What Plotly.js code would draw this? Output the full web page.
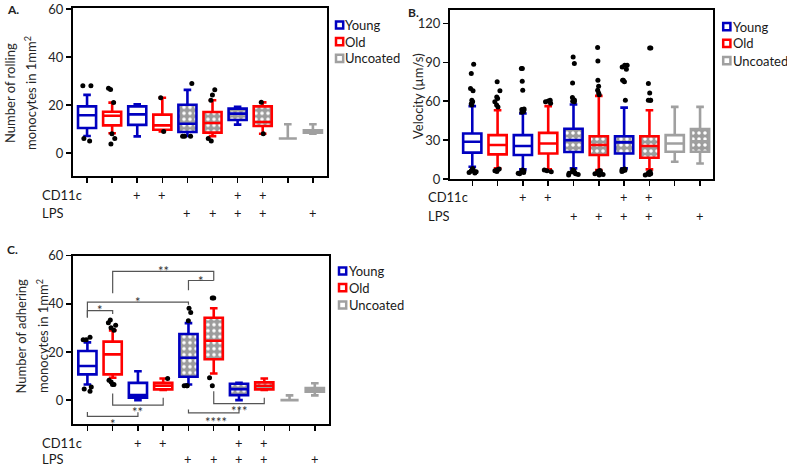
<!DOCTYPE html>
<html><head><meta charset="utf-8">
<script src="https://cdn.plot.ly/plotly-3.0.1.min.js"></script>
<style>html,body{margin:0;padding:0;background:#fff}#chart{width:787px;height:465px}</style>
</head><body><div id="chart"></div>
<script>
// ---------- categories ----------
const positions = [0,1,2,3,4,5,6,7,8,9];
const groups = ['Young','Old','Young','Old','Young','Old','Young','Old','Uncoated','Uncoated'];
const cd11cRow = ['', '', '+', '+', '', '', '+', '+', '', ''];
const lpsRow   = ['', '', '', '', '+', '+', '+', '+', '', '+'];
const groupNames = ['Young','Old','Uncoated'];

// ---------- Panel A: rolling monocytes ----------
const aLow = [7.1, 8.2, 6.9, 9, 7.1, 7, 11.8, 8, 6, 8];
const aQ1  = [10.4, 11.5, 11.7, 9.7, 8.75, 8.5, 13.75, 11.25, 6, 8.5];
const aMed = [15.7, 15.5, 16.1, 11.5, 12.2, 12.5, 16.4, 12.9, 6, 9];
const aQ3  = [19.4, 17.2, 19.4, 16, 20.1, 17.1, 18.5, 19.4, 6, 9.5];
const aHigh= [24.2, 21, 20.3, 23, 26.3, 22, 19.2, 21.1, 12, 12];
const aOut = [[28,28,6,5],[27,26.5,21,8,6,3.7],[],[23,9],[29,7,7,7],[26.3,24.2,22,6,5],[],[21.1,8],[],[]];

// ---------- Panel B: velocity ----------
const bLow = [9.5, 8.2, 7.4, 7.4, 8.2, 6.9, 8.2, 7.4, 13.3, 12];
const bQ1  = [20.3, 19, 18.5, 19.7, 20.8, 18.5, 19.7, 16.4, 21, 21];
const bMed = [28.7, 26.2, 25.4, 27.4, 30, 26.2, 28.2, 25.4, 27.4, 29];
const bQ3  = [35.1, 33.8, 33.8, 35.6, 38.7, 33, 33, 33, 33.8, 38.5];
const bHigh= [56.2, 53, 50.5, 56.2, 57.4, 64.1, 55, 53, 55.6, 55.6];
const bOut = [
  [57,58,59.5,60.8,68,69.7,81.3,88.5,8,7.5,7,6.5,6,5.5,5,4.6],
  [55.6,57,59.5,62,63.3,68,75,7.8,7.2,6.8,6.3,5.8],
  [51.5,52,52.5,53,53.5,54,68.5,75.4,85.1,85.1,7,6.5,6,5.5,5,4.5,4],
  [58.5,59.5,60.2,60.8,6.9,6.3,5.6],
  [59.5,60,60.5,61,62.8,74.1,89,94.1,7,6.5,6,5.5,5,4.5,4,3.5,3],
  [65,66.4,68.5,71.5,76.2,91,101.3,6.5,6,5.5,5,4.5,4,3.5,3],
  [60.8,74.9,76.2,76.2,84.6,86.4,87.7,87.7,7.7,7.2,6.8,6.3,5.8],
  [60.8,60.8,60.8,66.4,73.6,101,101,5.6,5,4.5,4,3.5,3],
  [],[]];

// ---------- Panel C: adhering monocytes ----------
const cLow = [6.5, 9.3, 0, 4.2, 6.5, 11.1, 0, 4.2, 0, 2];
const cQ1  = [10.7, 10.7, 1, 4.5, 9.7, 17, 2.1, 4.5, 0, 3.5];
const cMed = [14.2, 19, 2.1, 6, 17.6, 24.7, 4.6, 6, 0, 4.2];
const cQ3  = [20.4, 24.3, 7.2, 7.2, 27.5, 34.2, 6.8, 7.4, 0, 5];
const cHigh= [24, 29, 12, 9, 32, 38.2, 7.2, 9, 2, 7];
const cOut = [[26.1,25.1,25.1,5.5,4.6,3.75],[33.3,32.2,31.1,30.1,29,8.3,7.5,6.5,6.5],[],[9],[38.2,36.4,33,6,6,6],[42.4,42.4,9.3,6],[],[],[],[]];

// significance brackets on panel C
const sigFrom  = [0, 0, 1, 4, 1, 0, 5, 4];
const sigTo    = [1, 4, 5, 5, 3, 2, 7, 6];
const sigBar   = [37.2, 40.7, 53.5, 49.7, -2.1, -6.7, -1.4, -5.3];
const sigLeft  = [34.3, 34.3, 44.4, 45.6, 2.8, -4.9, 3.75, -3.9];
const sigRight = [35.8, 39.6, 49.7, 49.7, 1.0, -5.0, 1.0, -3.5];
const sigText  = ['*', '*', '**', '*', '**', '*', '***', '****'];
const sigLabelX= [0.5, 2, 3, 4.5, 2, 1, 6, 5.1];
const sigLabelY= [38.9, 42.4, 55.3, 51.1, -3.3, -8.3, -2.8, -7.6];

// ---------- styling ----------
const colors = {Young:'#0000C0', Old:'#FF0000', Uncoated:'#A0A0A0'};
const FONT = 'Lato, "Open Sans", sans-serif';
const W = 787, H = 465;
const px = x => x / W, py = y => 1 - y / H;
const patterned = [0,0,0,0,1,1,1,1,0,1];

const panels = [
  {ax:'', low:aLow, q1:aQ1, med:aMed, q3:aQ3, high:aHigh, out:aOut,
   xdom:[73,326.7], ydom:[8.3,176], xr:[-0.56,9.55], yr:[-9.6,60.3], yt:[0,20,40,60],
   titleLines:['Number of rolling','monocytes in 1mm<sup>2</sup>'], titleX:[10,31], titleY:93,
   label:'A.', labelPos:[5,9],
   rowLbl:[40,194,212], legSq:335.3, legTx:343.3, legY:[25,41.7,58.3]},
  {ax:'2', low:bLow, q1:bQ1, med:bMed, q3:bQ3, high:bHigh, out:bOut,
   xdom:[450,712.7], ydom:[10,179], xr:[-0.88,9.5], yr:[0,130.3], yt:[0,30,60,90,120],
   titleLines:['Velocity (\u00b5m/s)'], titleX:[418], titleY:96,
   label:'B.', labelPos:[406,13],
   rowLbl:[426,197,215], legSq:722.5, legTx:730.7, legY:[26.7,43.3,60.7]},
  {ax:'3', low:cLow, q1:cQ1, med:cMed, q3:cQ3, high:cHigh, out:cOut,
   xdom:[73,328.7], ydom:[255.7,424], xr:[-0.57,9.55], yr:[-9.9,60], yt:[0,20,40,60],
   titleLines:['Number of adhering','monocytes in 1mm<sup>2</sup>'], titleX:[20.5,42], titleY:336,
   label:'C.', labelPos:[5,250],
   rowLbl:[40,442,458], legSq:338.3, legTx:346.7, legY:[271,287.7,305]}
];

const traces = [];
const layout = {
  width: W, height: H, margin:{l:0,r:0,t:0,b:0},
  paper_bgcolor:'#fff', plot_bgcolor:'rgba(0,0,0,0)',
  showlegend:false, boxmode:'overlay', barmode:'overlay',
  font:{family:FONT, size:13, color:'#222'},
  shapes:[], annotations:[]
};
const textAnn = (o) => Object.assign({showarrow:false, font:{size:13, color:'#1a1a1a'}}, o);

panels.forEach(p => {
  const xa = 'x' + p.ax, ya = 'y' + p.ax;
  // pattern fill under LPS boxes
  const pi = positions.filter(i => patterned[i]);
  traces.push({
    type:'bar', x: pi, base: pi.map(i => p.q1[i]), y: pi.map(i => p.q3[i] - p.q1[i]),
    width: 0.72, xaxis: xa, yaxis: ya, hoverinfo:'skip',
    marker:{color:'#9C9C9C', line:{width:0},
      pattern:{shape:'.', bgcolor:'#9C9C9C', fgcolor:'#FFFFFF', size:6, solidity:0.28}}
  });
  // boxes per group
  groupNames.forEach(g => {
    const idx = positions.filter(i => groups[i] === g);
    traces.push({
      type:'box', name:g, x: idx,
      q1: idx.map(i => p.q1[i]), median: idx.map(i => p.med[i]), q3: idx.map(i => p.q3[i]),
      lowerfence: idx.map(i => p.low[i]), upperfence: idx.map(i => p.high[i]),
      xaxis: xa, yaxis: ya, width: 0.72, whiskerwidth: 0.42,
      line:{color: colors[g], width: 2.6}, fillcolor:'rgba(0,0,0,0)', boxpoints:false
    });
  });
  // outliers (points only)
  const ox = [], oy = [];
  p.out.forEach((arr, i) => arr.forEach(v => { ox.push(positions[i]); oy.push(v); }));
  traces.push({
    type:'box', x: ox, y: oy, xaxis: xa, yaxis: ya, width: 0.72,
    boxpoints:'all', jitter: 0.55, pointpos: 0,
    marker:{color:'#000', size:5}, line:{width:0, color:'rgba(0,0,0,0)'},
    fillcolor:'rgba(0,0,0,0)', hoveron:'points'
  });

  layout['xaxis' + p.ax] = {
    domain:[px(p.xdom[0]), px(p.xdom[1])], anchor: ya, range: p.xr,
    tickvals: positions, showticklabels:false, ticks:'outside', ticklen:5, tickwidth:1.5, tickcolor:'#000',
    showline:true, linewidth:2, linecolor:'#000', mirror:true, showgrid:false, zeroline:false
  };
  layout['yaxis' + p.ax] = {
    domain:[py(p.ydom[1]), py(p.ydom[0])], anchor: xa, range: p.yr,
    tickvals: p.yt, ticks:'outside', ticklen:5, tickwidth:1.5, tickcolor:'#000',
    tickfont:{size:13, color:'#262626'},
    showline:true, linewidth:2, linecolor:'#000', mirror:true, showgrid:false, zeroline:false
  };
  // y-axis title (rotated lines)
  p.titleLines.forEach((t, k) => layout.annotations.push(textAnn({xref:'paper', yref:'paper',
    x:px(p.titleX[k]), y:py(p.titleY), xanchor:'center', yanchor:'middle', textangle:-90,
    text:t, font:{size:13, color:'#262626'}})));
  // panel letter
  layout.annotations.push(textAnn({xref:'paper', yref:'paper', x:px(p.labelPos[0]), y:py(p.labelPos[1]),
    xanchor:'left', yanchor:'middle', text:'<b>' + p.label + '</b>', font:{size:12, color:'#222'}}));
  // condition rows
  layout.annotations.push(textAnn({xref:'paper', yref:'paper', x:px(p.rowLbl[0]), y:py(p.rowLbl[1]),
    xanchor:'left', yanchor:'middle', height:15, text:'CD11c'}));
  layout.annotations.push(textAnn({xref:'paper', yref:'paper', x:px(p.rowLbl[0]), y:py(p.rowLbl[2]),
    xanchor:'left', yanchor:'middle', height:15, text:'LPS'}));
  positions.forEach(i => {
    if (cd11cRow[i]) layout.annotations.push(textAnn({xref:xa, yref:'paper', x:positions[i], y:py(p.rowLbl[1]),
      xanchor:'center', yanchor:'middle', height:15, text:cd11cRow[i]}));
    if (lpsRow[i]) layout.annotations.push(textAnn({xref:xa, yref:'paper', x:positions[i], y:py(p.rowLbl[2]),
      xanchor:'center', yanchor:'middle', height:15, text:lpsRow[i]}));
  });
  // legend
  groupNames.forEach((g, k) => {
    const cy = p.legY[k], cx = p.legSq + 4.3;
    layout.shapes.push({type:'rect', xref:'paper', yref:'paper',
      x0:px(cx - 3.6), x1:px(cx + 3.6), y0:py(cy + 3.6), y1:py(cy - 3.6),
      line:{color:colors[g], width:2.5}, fillcolor:'rgba(0,0,0,0)'});
    layout.annotations.push(textAnn({xref:'paper', yref:'paper', x:px(p.legTx), y:py(cy),
      xanchor:'left', yanchor:'middle', text:g}));
  });
});

// significance brackets on panel C (asterisk glyph sits high: shift anchor down ~1.5 units)
sigFrom.forEach((f, k) => {
  const t = sigTo[k];
  layout.shapes.push({type:'path', xref:'x3', yref:'y3',
    path:`M ${positions[f]},${sigLeft[k]} L ${positions[f]},${sigBar[k]} L ${positions[t]},${sigBar[k]} L ${positions[t]},${sigRight[k]}`,
    line:{color:'#555', width:1.2}});
  layout.annotations.push(textAnn({xref:'x3', yref:'y3', x:sigLabelX[k], y:sigLabelY[k] - 1.5,
    xanchor:'center', yanchor:'middle', text:sigText[k], font:{size:13, color:'#333'}}));
});

Plotly.newPlot('chart', traces, layout, {staticPlot:true});
</script></body></html>
